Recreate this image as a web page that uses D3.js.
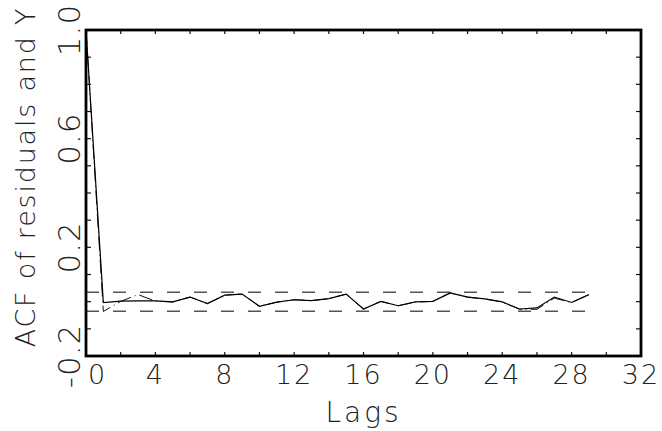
<!DOCTYPE html>
<html><head><meta charset="utf-8">
<script src="https://cdn.jsdelivr.net/npm/d3@7"></script>
<style>
html,body{margin:0;padding:0;background:#fff;}
svg{display:block;}
text{font-family:"DejaVu Sans","Liberation Sans",sans-serif;font-weight:200;fill:#222;}
</style></head>
<body><svg id="c" width="662" height="431"></svg>
<script>
const lags = [0,1,2,3,4,5,6,7,8,9,10,11,12,13,14,15,16,17,18,19,20,21,22,23,24,25,26,27,28,29];
const acfResiduals = [1.0,-0.003,0.002,0.003,0.003,-0.001,0.017,-0.007,0.024,0.028,-0.017,-0.002,0.007,0.004,0.011,0.028,-0.027,0.001,-0.015,-0.001,0.001,0.032,0.017,0.010,-0.001,-0.027,-0.023,0.017,-0.003,0.026];
const acfY = [1.0,-0.036,0.001,0.026,0.002,-0.001,0.017,-0.007,0.024,0.028,-0.017,-0.002,0.007,0.004,0.011,0.028,-0.027,0.001,-0.015,-0.001,0.001,0.032,0.017,0.010,-0.001,-0.028,-0.028,0.013,-0.003,0.026];
const confBound = 0.035;
const xTickLabels = ["0","4","8","12","16","20","24","28","32"];
const yTickLabels = ["-0.2","0.2","0.6","1.0"];
const xDomain = [0,32];
const yDomain = [-0.2,1.0];

const svg = d3.select("#c");
const L=86, R=641, T=30, B=356;
const x = d3.scaleLinear().domain(xDomain).range([L,R]);
const y = d3.scaleLinear().domain(yDomain).range([B,T]);

// minor ticks
const xMinor = d3.range(xDomain[0], xDomain[1]+0.001, 2);
const yMinor = d3.range(0, 13).map(i => +(yDomain[0] + i*0.1).toFixed(2));
const tk = svg.append("g").attr("stroke","#111").attr("stroke-width",1.2);
xMinor.forEach(v=>{
  tk.append("line").attr("x1",x(v)).attr("x2",x(v)).attr("y1",B).attr("y2",B-4);
  tk.append("line").attr("x1",x(v)).attr("x2",x(v)).attr("y1",T).attr("y2",T+4);
});
yMinor.forEach(v=>{
  tk.append("line").attr("x1",L).attr("x2",L+5).attr("y1",y(v)).attr("y2",y(v));
  tk.append("line").attr("x1",R).attr("x2",R-5).attr("y1",y(v)).attr("y2",y(v));
});

// confidence bounds
[confBound,-confBound].forEach(v=>{
  svg.append("line").attr("x1",x(lags[0])).attr("x2",x(lags[lags.length-1]))
    .attr("y1",y(v)).attr("y2",y(v))
    .attr("stroke","#555").attr("stroke-width",1.5).attr("stroke-dasharray","13,14");
});

const line = d3.line().x((d,i)=>x(lags[i])).y(d=>y(d));
svg.append("path").datum(acfY).attr("d",line).attr("fill","none")
  .attr("stroke","#111").attr("stroke-width",1).attr("stroke-dasharray","14,4,1,4");
svg.append("path").datum(acfResiduals).attr("d",line).attr("fill","none")
  .attr("stroke","#000").attr("stroke-width",1.2);

// frame
svg.append("rect").attr("x",L).attr("y",T).attr("width",R-L).attr("height",B-T)
  .attr("fill","none").attr("stroke","#000").attr("stroke-width",2.8);

// x tick labels
xTickLabels.forEach((t,i)=>{
  const v = +t;
  svg.append("text").attr("x", i===0 ? x(v)+2 : x(v)).attr("y",384)
    .attr("text-anchor", i===0 ? "start" : "middle")
    .attr("font-size",27).attr("letter-spacing",2).text(t);
});
// y tick labels (rotated)
yTickLabels.forEach(t=>{
  const v = +t;
  svg.append("text").attr("transform",`translate(80,${y(v)}) rotate(-90)`)
    .attr("text-anchor","middle").attr("font-size",31).attr("letter-spacing",1).text(t);
});
// axis titles
svg.append("text").attr("x",(L+R)/2).attr("y",422).attr("text-anchor","middle")
  .attr("font-size",28).attr("letter-spacing",3).text("Lags");
svg.append("text").attr("transform",`translate(35,177) rotate(-90)`).attr("text-anchor","middle")
  .attr("font-size",27).attr("letter-spacing",1.8).text("ACF of residuals and Y");
</script></body></html>
